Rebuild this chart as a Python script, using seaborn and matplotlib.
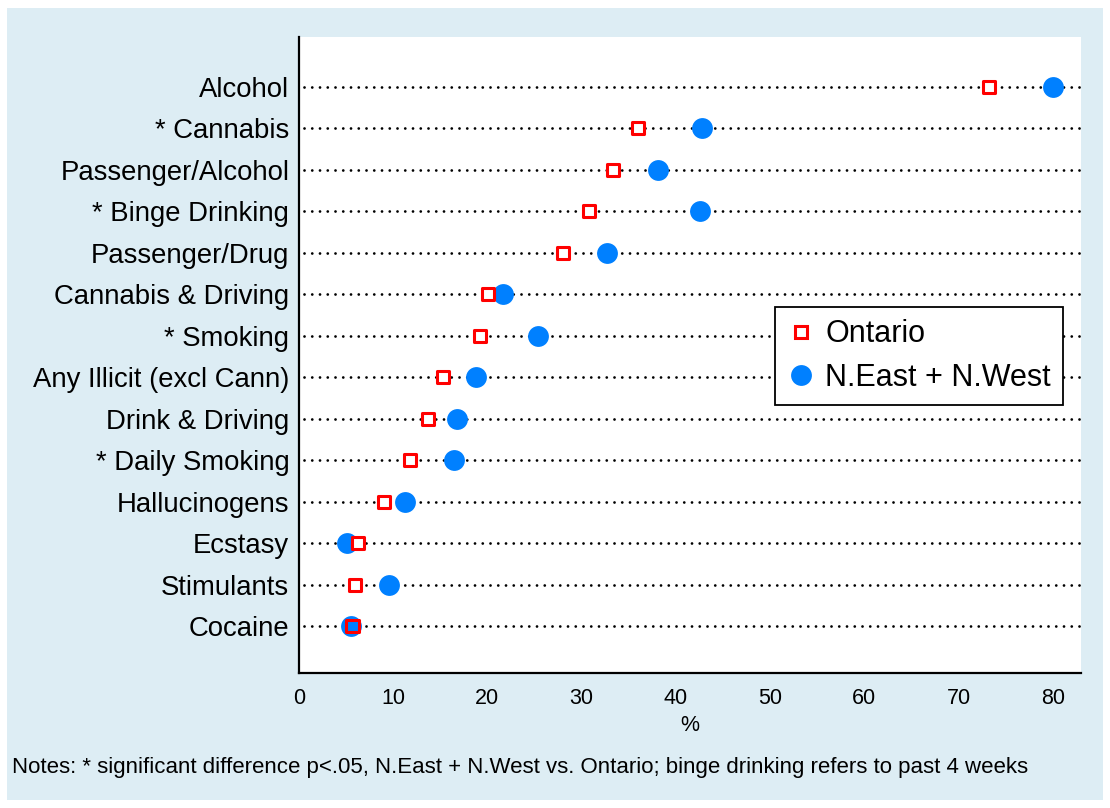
import matplotlib
matplotlib.use("Agg")
import matplotlib.pyplot as plt
import seaborn as sns
import pandas as pd
from matplotlib.patches import Rectangle
from matplotlib.lines import Line2D

categories = ["Alcohol", "* Cannabis", "Passenger/Alcohol", "* Binge Drinking",
              "Passenger/Drug", "Cannabis & Driving", "* Smoking",
              "Any Illicit (excl Cann)", "Drink & Driving", "* Daily Smoking",
              "Hallucinogens", "Ecstasy", "Stimulants", "Cocaine"]
ontario = [73.2, 36.0, 33.3, 30.8, 28.0, 20.1, 19.2, 15.3, 13.7, 11.8, 9.0, 6.3, 5.9, 5.7]
north = [80.0, 42.8, 38.1, 42.6, 32.7, 21.7, 25.4, 18.8, 16.8, 16.4, 11.3, 5.1, 9.6, 5.5]
xticks = [0, 10, 20, 30, 40, 50, 60, 70, 80]
series_names = ["Ontario", "N.East + N.West"]
note = "Notes: * significant difference p<.05, N.East + N.West vs. Ontario; binge drinking refers to past 4 weeks"

sns.set_theme(style="white")
plt.rcParams['font.family'] = ['Liberation Sans', 'DejaVu Sans']
plt.rcParams['text.color'] = 'black'
plt.rcParams['axes.labelcolor'] = 'black'
plt.rcParams['xtick.color'] = 'black'
plt.rcParams['ytick.color'] = 'black'

df = pd.DataFrame({"cat": categories, "ont": ontario, "nor": north})

fig = plt.figure(figsize=(11.1, 8.08), dpi=100)
fig.patch.set_facecolor("white")
fig.patches.append(Rectangle((7/1110, 8/808), 1096/1110, 792/808, transform=fig.transFigure,
                             facecolor="#DDEDF4", edgecolor="none", zorder=-10))
ax = fig.add_axes([299/1110, 1 - 673/808, (1081 - 299)/1110, (673 - 37)/808])
ax.set_facecolor("white")

# dotted guide lines
for i in range(len(categories)):
    ax.plot([0.5, 83], [i, i], linestyle=(0, (0.01, 2.78)), color="black", lw=2.0,
            dash_capstyle="round", zorder=1)

sns.stripplot(data=df, x="nor", y="cat", order=categories, jitter=False, ax=ax,
              color="#0080FF", size=15, linewidth=0, zorder=3)
sns.stripplot(data=df, x="ont", y="cat", order=categories, jitter=False, ax=ax,
              marker="s", color="white", edgecolor="#FF0000", linewidth=2.2,
              size=9, zorder=4)
# make ontario squares hollow
ax.collections[-1].set_facecolor("none")
ax.collections[-1].set_edgecolor("#FF0000")

ax.set_xlim(0, 83)
ax.set_ylim(14.134, -1.206)
ax.set_xticks(xticks)
ax.set_xticklabels([str(t) for t in xticks], fontsize=15.5)
ax.set_yticks(range(len(categories)))
ax.set_yticklabels(categories, fontsize=19.8)
ax.tick_params(axis="x", direction="out", length=8, width=1.3, color="black", pad=3,
               labelcolor="black")
ax.tick_params(axis="y", direction="out", length=4, width=1.0, color="black", pad=3,
               labelcolor="black")
ax.set_xlabel("%", fontsize=15.5, labelpad=4, color="black")
ax.set_ylabel("")
for s in ["top", "right"]:
    ax.spines[s].set_visible(False)
for s in ["left", "bottom"]:
    ax.spines[s].set_color("black")
    ax.spines[s].set_linewidth(1.6)

handles = [Line2D([], [], linestyle="none", marker="s", markersize=9, markerfacecolor="none",
                  markeredgecolor="#FF0000", markeredgewidth=2.2),
           Line2D([], [], linestyle="none", marker="o", markersize=15, markerfacecolor="#0080FF",
                  markeredgewidth=0)]
leg = ax.legend(handles, series_names, loc="upper left",
                bbox_to_anchor=((775 - 299)/782, (673 - 307)/636),
                fontsize=22, frameon=True, fancybox=False, edgecolor="black",
                borderpad=0.4, handletextpad=0.35, labelspacing=0.45, handlelength=0.9,
                borderaxespad=0)
leg.get_frame().set_linewidth(1.3)
leg.get_frame().set_facecolor("white")
leg.get_frame().set_alpha(1)
for t in leg.get_texts():
    t.set_color("black")

fig.text(12/1110, 1 - 768/808, note, fontsize=16, ha="left", va="center", color="black")

fig.savefig("out.png", dpi=100)
